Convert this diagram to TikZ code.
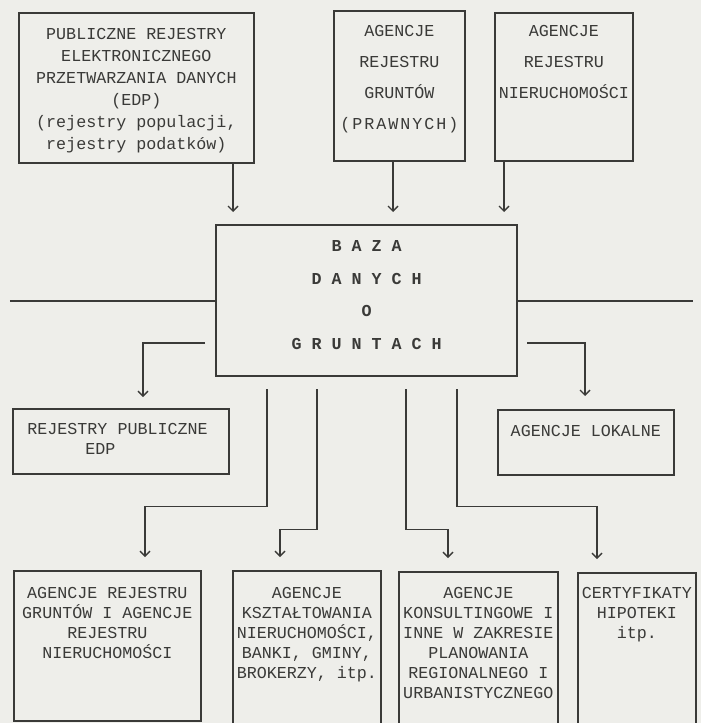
\documentclass[tikz,border=0pt]{standalone}
\usepackage{fontspec}
\setmonofont{Liberation Mono}
\usetikzlibrary{arrows.meta}

\definecolor{paper}{RGB}{238,238,234}
\definecolor{ink}{RGB}{58,58,56}

\begin{document}
\begin{tikzpicture}[
  box/.style={shape = rectangle, draw = ink, line width = 1pt, anchor = north west, inner sep = 0pt},
  txt/.style={anchor = north, align = center, inner sep = 0pt, text = ink, font = \ttfamily\fontsize{9.5}{11.4}\selectfont},
  conn/.style={draw = ink, line width = 0.8pt, -{Straight Barb[length=1mm,width=2mm]}},
  os/.style={draw = ink, line width = 1.5pt}
]
\useasboundingbox (0,0) rectangle (14.02,-14.46);
\fill[paper] (0,0) rectangle (14.02,-14.46);
\clip (0,0) rectangle (14.02,-14.46);

\node[box, minimum width = 4.70cm, minimum height = 3.00cm, label = {[txt, yshift = -0.32cm, font = \ttfamily\fontsize{9.5}{12.5}\selectfont]north:{PUBLICZNE REJESTRY\\ELEKTRONICZNEGO\\PRZETWARZANIA DANYCH\\(EDP)\\(rejestry populacji,\\rejestry podatków)}}](pub) at (0.36,-0.24) {};
\node[box, minimum width = 2.62cm, minimum height = 3.00cm, label = {[txt, yshift = -0.30cm, font = \ttfamily\fontsize{9.5}{17.6}\selectfont]north:{AGENCJE\\REJESTRU\\GRUNTÓW\\{\addfontfeature{LetterSpace=12}(PRAWNYCH)}}}](grunt) at (6.66,-0.20) {};
\node[box, minimum width = 2.76cm, minimum height = 2.96cm, label = {[txt, yshift = -0.26cm, font = \ttfamily\fontsize{9.5}{17.6}\selectfont]north:{AGENCJE\\REJESTRU\\NIERUCHOMOŚCI}}](nier) at (9.88,-0.24) {};

\node[box, line width = 1.3pt, minimum width = 6.02cm, minimum height = 3.02cm, label = {[txt, yshift = -0.32cm, font = \ttfamily\bfseries\fontsize{9.5}{18.6}\selectfont]north:{B A Z A\\D A N Y C H\\O\\G R U N T A C H}}](baza) at (4.30,-4.48) {};

\node[box, minimum width = 4.32cm, minimum height = 1.30cm, label = {[txt, anchor = north west, align = left, xshift = 0.30cm, yshift = -0.30cm]north west:{REJESTRY PUBLICZNE\\\hspace*{1.16cm}EDP}}](rpub) at (0.24,-8.16) {};
\node[box, minimum width = 3.52cm, minimum height = 1.30cm, label = {[txt, yshift = -0.32cm]north:{AGENCJE LOKALNE}}](lok) at (9.94,-8.18) {};

\node[box, minimum width = 3.74cm, minimum height = 3.00cm, label = {[txt, yshift = -0.34cm]north:{AGENCJE REJESTRU\\GRUNTÓW I AGENCJE\\REJESTRU\\NIERUCHOMOŚCI}}](agrej) at (0.26,-11.40) {};
\node[box, minimum width = 2.96cm, minimum height = 3.40cm, label = {[txt, yshift = -0.34cm]north:{AGENCJE\\KSZTAŁTOWANIA\\NIERUCHOMOŚCI,\\BANKI, GMINY,\\BROKERZY, itp.}}](kszt) at (4.64,-11.40) {};
\node[box, minimum width = 3.18cm, minimum height = 3.40cm, label = {[txt, yshift = -0.32cm]north:{AGENCJE\\KONSULTINGOWE I\\INNE W ZAKRESIE\\PLANOWANIA\\REGIONALNEGO I\\URBANISTYCZNEGO}}](kons) at (7.96,-11.42) {};
\node[box, minimum width = 2.36cm, minimum height = 3.40cm, label = {[txt, yshift = -0.30cm]north:{CERTYFIKATY\\HIPOTEKI\\itp.}}](cert) at (11.54,-11.44) {};

\coordinate (lewy) at (0.20,-6.02);
\coordinate (prawy) at (13.86,-6.02);
\draw[os] (lewy) -- (lewy -| baza.west);
\draw[os] (baza.east |- prawy) -- (prawy);

\coordinate (we1) at ([xshift = 4.30cm]pub.south west);
\coordinate (we2) at ([xshift = 1.20cm]grunt.south west);
\coordinate (we3) at ([xshift = 0.20cm]nier.south west);
\draw[conn, shorten > = 0.24cm] (we1) -- (we1 |- baza.north);
\draw[conn, shorten > = 0.24cm] (we2) -- (we2 |- baza.north);
\draw[conn, shorten > = 0.24cm] (we3) -- (we3 |- baza.north);

\coordinate (wy1) at (4.10,-6.86);
\coordinate (wy2) at (10.54,-6.86);
\draw[conn, shorten > = 0.22cm] (wy1) -| ([xshift = 2.62cm]rpub.north west);
\draw[conn, shorten > = 0.26cm] (wy2) -| ([xshift = 1.76cm]lok.north west);

\coordinate (wy3) at ([xshift = 1.04cm, yshift = -0.24cm]baza.south west);
\coordinate (wy4) at ([xshift = 2.04cm, yshift = -0.24cm]baza.south west);
\coordinate (wy5) at ([xshift = 3.82cm, yshift = -0.24cm]baza.south west);
\coordinate (wy6) at ([xshift = 4.84cm, yshift = -0.24cm]baza.south west);
\draw[conn, shorten > = 0.26cm] (wy3) -- ++(0,-2.34) -| ([xshift = 2.64cm]agrej.north west);
\draw[conn, shorten > = 0.26cm] (wy4) -- ++(0,-2.80) -| ([xshift = 0.96cm]kszt.north west);
\draw[conn, shorten > = 0.26cm] (wy5) -- ++(0,-2.80) -| ([xshift = 1.00cm]kons.north west);
\draw[conn, shorten > = 0.26cm] (wy6) -- ++(0,-2.34) -| ([xshift = 0.40cm]cert.north west);
\end{tikzpicture}
\end{document}
